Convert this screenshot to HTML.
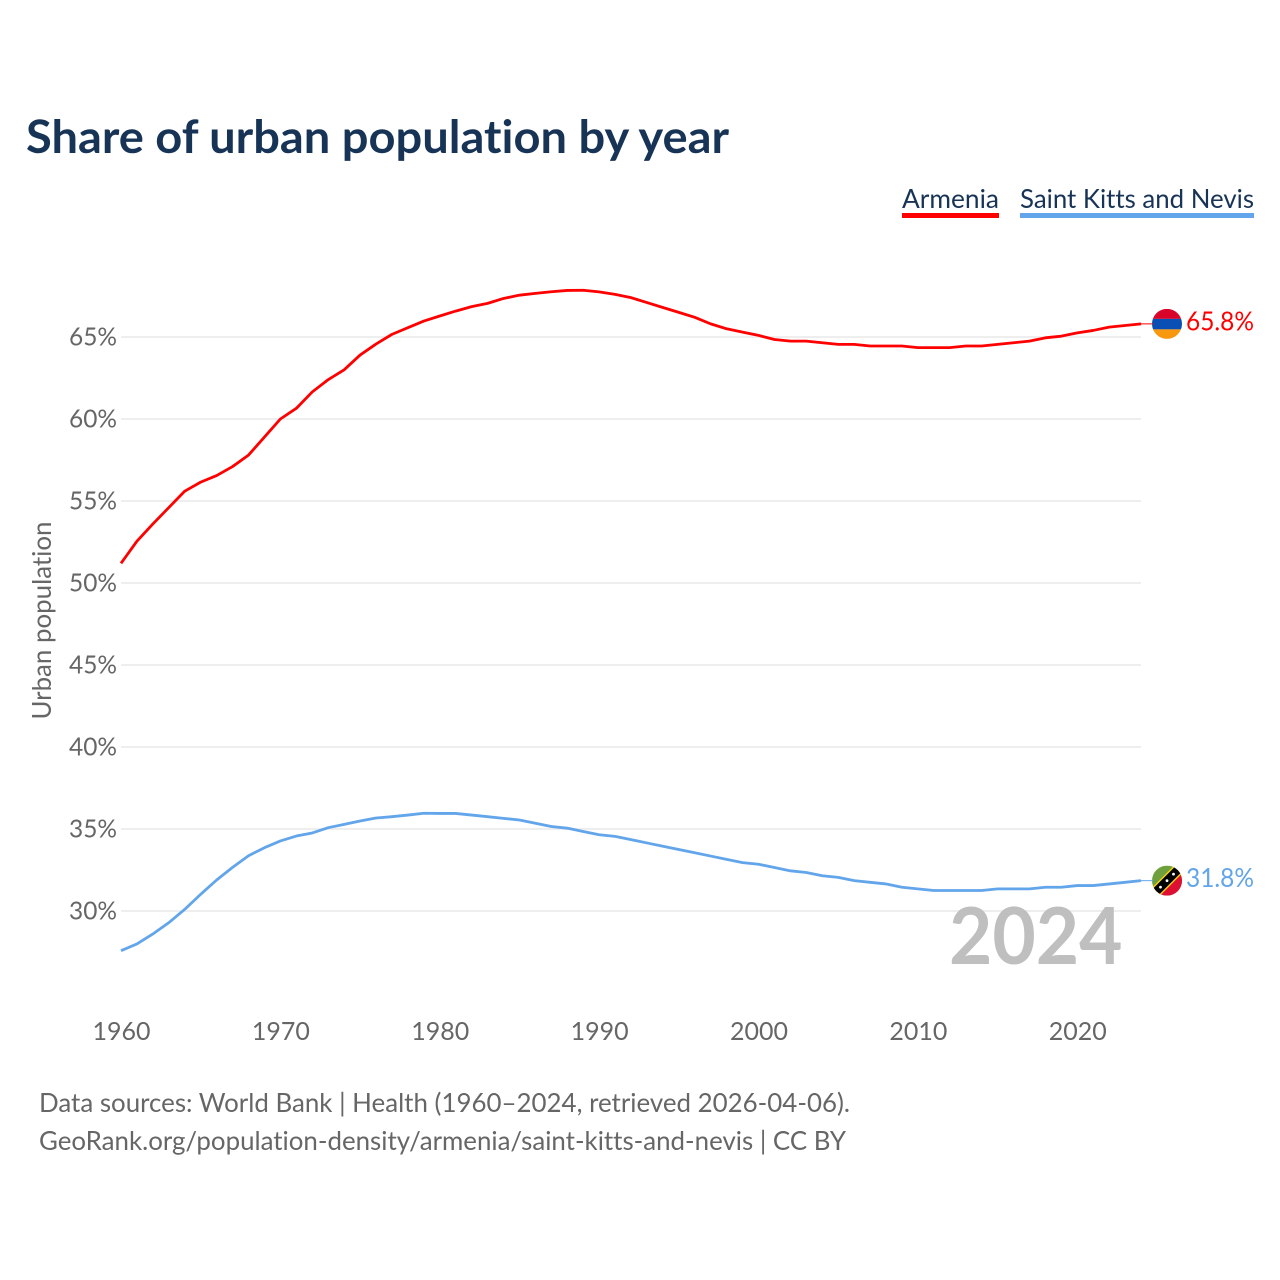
<!DOCTYPE html>
<html lang="en">
<head>
<meta charset="utf-8">
<title>Share of urban population by year</title>
<style>
html,body{margin:0;padding:0;background:#fff;}
svg{display:block;font-family:"Lato","Carlito","Liberation Sans",sans-serif;font-variant-ligatures:none;}
</style>
</head>
<body>
<svg id="chart" xmlns="http://www.w3.org/2000/svg" width="1280" height="1280" viewBox="0 0 1280 1280">
  <defs>
    <clipPath id="clip-am"><circle cx="0" cy="0" r="15"/></clipPath>
  </defs>
  <rect x="0" y="0" width="1280" height="1280" fill="#ffffff"/>
  <text x="26" y="153" font-size="46" font-weight="700" fill="#173456" textLength="703" lengthAdjust="spacingAndGlyphs">Share of urban population by year</text>

  <g>
    <g>
      <text x="902" y="208" font-size="26" fill="#173456" textLength="97" lengthAdjust="spacingAndGlyphs">Armenia</text>
      <rect x="902" y="213" width="97" height="5" fill="#ff0000"/>
    </g>
    <g>
      <text x="1020" y="208" font-size="26" fill="#173456" textLength="234" lengthAdjust="spacingAndGlyphs">Saint Kitts and Nevis</text>
      <rect x="1020" y="213" width="234" height="5" fill="#62a5ea"/>
    </g>
  </g>

  <g id="grid"></g>
  <g id="y-ticks"></g>
  <g id="x-ticks"></g>

  <text transform="translate(51,620.5) rotate(-90)" text-anchor="middle" font-size="26" fill="#666666" textLength="198" lengthAdjust="spacingAndGlyphs">Urban population</text>

  <text x="949" y="964" font-size="79" font-weight="700" fill="#bfbfbf" textLength="173.5" lengthAdjust="spacingAndGlyphs">2024</text>

  <g id="series"></g>

  <g id="end-armenia">
    <g clip-path="url(#clip-am)">
      <rect x="-15" y="-15" width="30" height="10" fill="#d90429"/>
      <rect x="-15" y="-5" width="30" height="10.5" fill="#0a50b4"/>
      <rect x="-15" y="5.5" width="30" height="10" fill="#f7980f"/>
    </g>
  </g>
  <g id="end-skn">
    <g clip-path="url(#clip-am)">
      <rect x="-15" y="-15" width="30" height="30" fill="#6ea13e"/>
      <polygon points="15,-15 15,15 -15,15" fill="#dd0f33"/>
      <polygon points="-17,9 9,-17 17,-9 -9,17" fill="#f8d210"/>
      <polygon points="-17,11 11,-17 17,-11 -11,17" fill="#000000"/>
      <circle cx="-6.5" cy="6.5" r="1.4" fill="#ffffff"/>
      <circle cx="0" cy="0" r="1.4" fill="#ffffff"/>
      <circle cx="6.5" cy="-6.5" r="1.4" fill="#ffffff"/>
    </g>
  </g>

  <text x="39" y="1112" font-size="26" fill="#666666" textLength="811" lengthAdjust="spacingAndGlyphs">Data sources: World Bank | Health (1960–2024, retrieved 2026-04-06).</text>
  <text x="39" y="1150" font-size="26" fill="#666666" textLength="807" lengthAdjust="spacingAndGlyphs">GeoRank.org/population-density/armenia/saint-kitts-and-nevis | CC BY</text>
</svg>
<script>
const years = [1960,1961,1962,1963,1964,1965,1966,1967,1968,1969,1970,1971,1972,1973,1974,1975,1976,1977,1978,1979,1980,1981,1982,1983,1984,1985,1986,1987,1988,1989,1990,1991,1992,1993,1994,1995,1996,1997,1998,1999,2000,2001,2002,2003,2004,2005,2006,2007,2008,2009,2010,2011,2012,2013,2014,2015,2016,2017,2018,2019,2020,2021,2022,2023,2024];
const armeniaValues = [51.2,52.55,53.6,54.6,55.6,56.15,56.55,57.1,57.8,58.9,60.0,60.65,61.65,62.4,63.0,63.9,64.57,65.16,65.57,65.97,66.28,66.58,66.85,67.05,67.35,67.55,67.66,67.76,67.84,67.85,67.75,67.6,67.4,67.1,66.8,66.5,66.2,65.8,65.5,65.3,65.1,64.85,64.75,64.75,64.65,64.55,64.55,64.45,64.45,64.45,64.35,64.35,64.35,64.45,64.45,64.55,64.65,64.75,64.95,65.05,65.25,65.4,65.6,65.7,65.8];
const sknValues = [27.58,27.99,28.6,29.29,30.1,31.02,31.89,32.66,33.37,33.86,34.27,34.57,34.76,35.08,35.28,35.49,35.67,35.75,35.85,35.96,35.95,35.95,35.85,35.75,35.65,35.55,35.35,35.15,35.05,34.85,34.65,34.55,34.35,34.15,33.95,33.75,33.55,33.35,33.15,32.95,32.85,32.65,32.45,32.35,32.15,32.05,31.85,31.75,31.65,31.45,31.35,31.25,31.25,31.25,31.25,31.35,31.35,31.35,31.45,31.45,31.55,31.55,31.65,31.75,31.85];
const yTickValues = [30,35,40,45,50,55,60,65];
const xTickValues = [1960,1970,1980,1990,2000,2010,2020];
const armeniaLabel = "65.8%";
const sknLabel = "31.8%";

const NS = "http://www.w3.org/2000/svg";
const plotLeft = 121, plotRight = 1141, firstYear = 1960, lastYear = 2024;
const y30 = 911, pxPerPercent = 16.4;
function xScale(year) { return plotLeft + (year - firstYear) * (plotRight - plotLeft) / (lastYear - firstYear); }
function yScale(v) { return y30 - (v - 30) * pxPerPercent; }
function make(tag, attrs, parent) {
  const el = document.createElementNS(NS, tag);
  for (const k in attrs) el.setAttribute(k, attrs[k]);
  parent.appendChild(el);
  return el;
}

const grid = document.getElementById("grid");
const yTicksGroup = document.getElementById("y-ticks");
yTickValues.forEach(function (v) {
  const y = yScale(v);
  const line = make("line", {x1: plotLeft, x2: plotRight, y1: y, y2: y, stroke: "#eeeeee", "stroke-width": 2}, grid);
  
  
  const label = make("text", {x: 117, y: y + 8.5, "text-anchor": "end", "font-size": 25.5, fill: "#666666", textLength: 48, lengthAdjust: "spacingAndGlyphs"}, yTicksGroup);
  label.textContent = v + "%";
  
  
});

const xTicksGroup = document.getElementById("x-ticks");
xTickValues.forEach(function (yr) {
  const label = make("text", {x: xScale(yr) + 0.5, y: 1040, "text-anchor": "middle", "font-size": 25.5, fill: "#666666", textLength: 58, lengthAdjust: "spacingAndGlyphs"}, xTicksGroup);
  label.textContent = String(yr);
  
  
});

function pathFor(values) {
  return values.map(function (v, i) {
    return (i ? "L" : "M") + xScale(years[i]).toFixed(2) + " " + yScale(v).toFixed(2);
  }).join(" ");
}

const seriesGroup = document.getElementById("series");
const armeniaLine = make("path", {d: pathFor(armeniaValues), fill: "none", stroke: "#ff0000", "stroke-width": 2.8, "stroke-linejoin": "round"}, seriesGroup);


const sknLine = make("path", {d: pathFor(sknValues), fill: "none", stroke: "#62a5ea", "stroke-width": 2.8, "stroke-linejoin": "round"}, seriesGroup);



function placeEnd(groupId, values, color, text) {
  const last = yScale(values[values.length - 1]);
  const group = document.getElementById(groupId);
  group.querySelector("g").setAttribute("transform", "translate(1167," + last + ")");
  const conn = make("line", {x1: plotRight, x2: 1153, y1: last, y2: last, stroke: color, "stroke-width": 1}, group);
  
  
  const label = make("text", {x: 1186, y: last + 6.5, "font-size": 26, fill: color, textLength: 68, lengthAdjust: "spacingAndGlyphs"}, group);
  label.textContent = text;
  
  
}
placeEnd("end-armenia", armeniaValues, "#ff0000", armeniaLabel);
placeEnd("end-skn", sknValues, "#62a5ea", sknLabel);
</script>
</body>
</html>
